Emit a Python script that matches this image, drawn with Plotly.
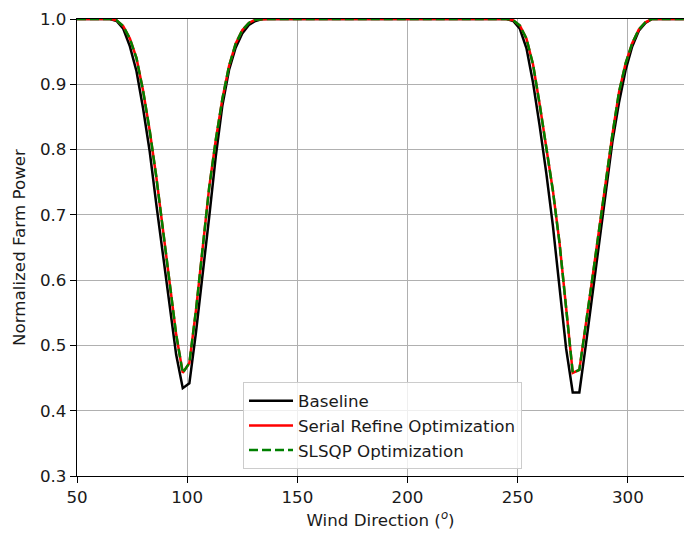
import plotly.graph_objects as go

# Wind directions (deg), sampled every 3 degrees across the plotted span
wind_direction = [
    50, 53, 56, 59, 62, 65, 68, 71, 74, 77, 80, 83, 86, 89, 92, 95, 98, 101, 104, 107,
    110, 113, 116, 119, 122, 125, 128, 131, 134, 137, 140, 143, 146, 149, 152, 155, 158, 161, 164, 167,
    170, 173, 176, 179, 182, 185, 188, 191, 194, 197, 200, 203, 206, 209, 212, 215, 218, 221, 224, 227,
    230, 233, 236, 239, 242, 245, 248, 251, 254, 257, 260, 263, 266, 269, 272, 275, 278, 281, 284, 287,
    290, 293, 296, 299, 302, 305, 308, 311, 314, 317, 320, 323, 326,
]

# Normalized farm power, baseline yaw settings
baseline = [
    1.0, 1.0, 1.0, 1.0, 1.0, 1.0, 0.997, 0.985, 0.958, 0.920, 0.863, 0.797, 0.716, 0.641, 0.563, 0.486, 0.4345, 0.442, 0.520, 0.606,
    0.697, 0.790, 0.868, 0.922, 0.956, 0.978, 0.991, 0.997, 1.0, 1.0, 1.0, 1.0, 1.0, 1.0, 1.0, 1.0, 1.0, 1.0, 1.0, 1.0,
    1.0, 1.0, 1.0, 1.0, 1.0, 1.0, 1.0, 1.0, 1.0, 1.0, 1.0, 1.0, 1.0, 1.0, 1.0, 1.0, 1.0, 1.0, 1.0, 1.0,
    1.0, 1.0, 1.0, 1.0, 1.0, 1.0, 0.997, 0.985, 0.955, 0.902, 0.836, 0.764, 0.683, 0.585, 0.495, 0.428, 0.428, 0.502, 0.580, 0.654,
    0.730, 0.812, 0.872, 0.922, 0.958, 0.982, 0.994, 1.0, 1.0, 1.0, 1.0, 1.0, 1.0,
]

# Normalized farm power with yaw angles from the serial-refine optimizer
serial_refine = [
    1.0, 1.0, 1.0, 1.0, 1.0, 1.0, 0.998, 0.989, 0.970, 0.940, 0.890, 0.829, 0.758, 0.676, 0.590, 0.517, 0.458, 0.473, 0.554, 0.652,
    0.742, 0.815, 0.878, 0.928, 0.962, 0.983, 0.994, 0.999, 1.0, 1.0, 1.0, 1.0, 1.0, 1.0, 1.0, 1.0, 1.0, 1.0, 1.0, 1.0,
    1.0, 1.0, 1.0, 1.0, 1.0, 1.0, 1.0, 1.0, 1.0, 1.0, 1.0, 1.0, 1.0, 1.0, 1.0, 1.0, 1.0, 1.0, 1.0, 1.0,
    1.0, 1.0, 1.0, 1.0, 1.0, 1.0, 0.998, 0.990, 0.970, 0.930, 0.869, 0.802, 0.737, 0.657, 0.558, 0.458, 0.4625, 0.530, 0.605, 0.678,
    0.754, 0.823, 0.888, 0.932, 0.963, 0.984, 0.995, 1.0, 1.0, 1.0, 1.0, 1.0, 1.0,
]

# Normalized farm power with yaw angles from SLSQP
slsqp = [
    1.0, 1.0, 1.0, 1.0, 1.0, 1.0, 0.998, 0.989, 0.970, 0.940, 0.890, 0.829, 0.758, 0.676, 0.590, 0.517, 0.458, 0.473, 0.554, 0.652,
    0.742, 0.815, 0.878, 0.928, 0.962, 0.983, 0.994, 0.999, 1.0, 1.0, 1.0, 1.0, 1.0, 1.0, 1.0, 1.0, 1.0, 1.0, 1.0, 1.0,
    1.0, 1.0, 1.0, 1.0, 1.0, 1.0, 1.0, 1.0, 1.0, 1.0, 1.0, 1.0, 1.0, 1.0, 1.0, 1.0, 1.0, 1.0, 1.0, 1.0,
    1.0, 1.0, 1.0, 1.0, 1.0, 1.0, 0.998, 0.990, 0.970, 0.930, 0.869, 0.802, 0.737, 0.657, 0.558, 0.458, 0.4625, 0.530, 0.605, 0.678,
    0.754, 0.823, 0.888, 0.932, 0.963, 0.984, 0.995, 1.0, 1.0, 1.0, 1.0, 1.0, 1.0,
]

x_ticks = [50, 100, 150, 200, 250, 300]
y_ticks = [0.3, 0.4, 0.5, 0.6, 0.7, 0.8, 0.9, 1.0]

FONT = "DejaVu Sans"
TEXT = "#1a1a1a"
LW = 2.5

fig = go.Figure()
fig.add_trace(go.Scatter(x=wind_direction, y=baseline, mode="lines", name="Baseline",
                         line=dict(color="black", width=LW)))
fig.add_trace(go.Scatter(x=wind_direction, y=serial_refine, mode="lines", name="Serial Refine Optimization",
                         line=dict(color="red", width=LW)))
fig.add_trace(go.Scatter(x=wind_direction, y=slsqp, mode="lines", name="SLSQP Optimization",
                         line=dict(color="green", width=LW, dash="9px,4px")))

axis_common = dict(
    showgrid=True, gridcolor="#b0b0b0", gridwidth=1.33,
    showline=True, linecolor="black", linewidth=1.33,
    ticks="outside", ticklen=6, tickwidth=1.33, tickcolor="black",
    tickfont=dict(family=FONT, size=16.7, color=TEXT),
    zeroline=False,
)

fig.update_layout(
    width=684, height=537,
    margin=dict(l=77, r=0, t=19, b=61),
    paper_bgcolor="white", plot_bgcolor="white",
    font=dict(family=FONT, size=16.7, color=TEXT),
    xaxis=dict(
        range=[50, 325.5], tickvals=x_ticks, ticktext=[str(v) for v in x_ticks],
        mirror=True,
        title=dict(text="Wind Direction (<sup><i>o</i></sup>)", standoff=8,
                   font=dict(family=FONT, size=16.7, color=TEXT)),
        automargin=False,
        **axis_common,
    ),
    yaxis=dict(
        range=[0.3, 1.0], tickvals=y_ticks, ticktext=[f"{v:.1f}" for v in y_ticks],
        mirror=False,
        title=dict(text="Normalized Farm Power", standoff=10,
                   font=dict(family=FONT, size=16.7, color=TEXT)),
        automargin=False,
        **axis_common,
    ),
    legend=dict(
        x=0.2735, y=0.205, xanchor="left", yanchor="top",
        bgcolor="rgba(255,255,255,0.8)", bordercolor="#cccccc", borderwidth=1,
        itemwidth=44,
        font=dict(family=FONT, size=16.7, color=TEXT),
    ),
    showlegend=True,
)

fig.write_html("out.html")
